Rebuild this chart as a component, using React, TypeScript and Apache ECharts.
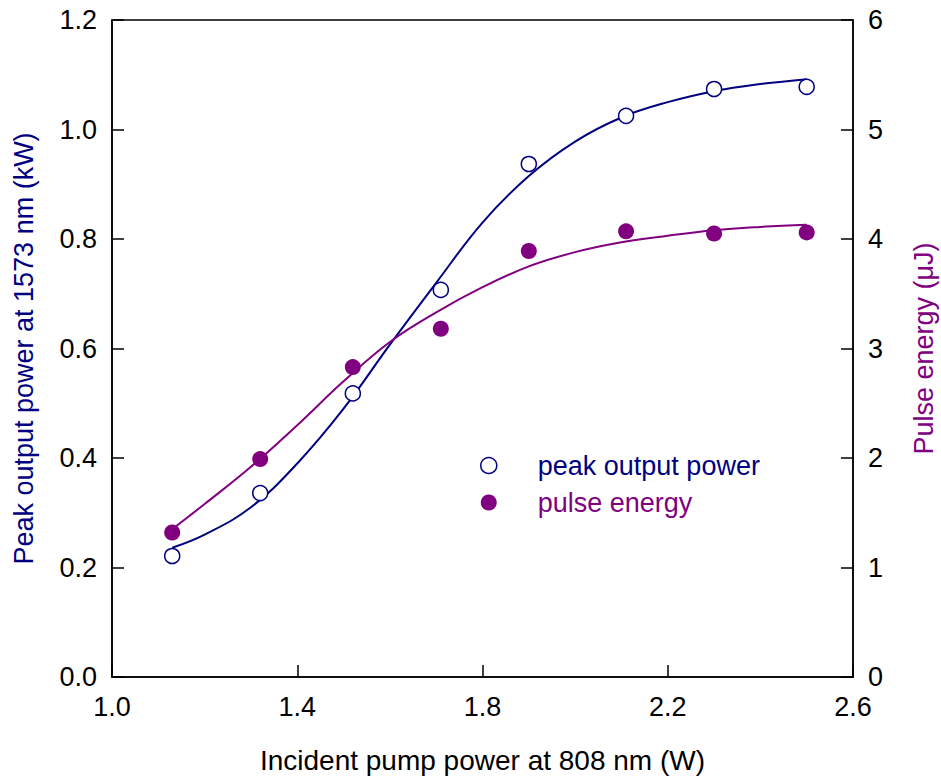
import React, { useEffect, useRef } from "react";
import * as echarts from "echarts";

const pumpPower = [1.13, 1.32, 1.52, 1.71, 1.9, 2.11, 2.3, 2.5];
const peakPower = [0.221, 0.336, 0.518, 0.707, 0.937, 1.025, 1.074, 1.078];
const pulseEnergy = [1.32, 1.99, 2.83, 3.18, 3.89, 4.07, 4.05, 4.06];

const fitX = [1.13, 1.2, 1.3, 1.4, 1.5, 1.6, 1.7, 1.8, 1.9, 2.0, 2.1, 2.2, 2.3, 2.4, 2.5];
const peakFit = [0.236, 0.26, 0.31, 0.39, 0.49, 0.607, 0.72, 0.83, 0.915, 0.978, 1.022, 1.05, 1.07, 1.083, 1.092];
const energyFit = [1.35, 1.58, 1.92, 2.3, 2.7, 3.06, 3.33, 3.56, 3.75, 3.88, 3.97, 4.03, 4.08, 4.11, 4.13];

const xTicks = { min: 1.0, max: 2.6, interval: 0.4 };
const leftTicks = { min: 0, max: 1.2, interval: 0.2 };
const rightTicks = { min: 0, max: 6, interval: 1 };

const NAVY = "#000080";
const PURPLE = "#800080";
const FONT = "'Liberation Sans', Arial, sans-serif";

export default function App() {
  const ref = useRef<HTMLDivElement>(null);
  useEffect(() => {
    if (!ref.current) return;
    const chart = echarts.init(ref.current, undefined, { renderer: "svg" });
    const zip = (xs: number[], ys: number[]) => xs.map((x, i) => [x, ys[i]]);
    const axisCommon = {
      axisLine: { show: true, lineStyle: { color: "#000", width: 1.5 } },
      axisTick: { show: true, inside: true, length: 12, lineStyle: { color: "#000", width: 1.5 } },
      splitLine: { show: false },
      axisLabel: { color: "#000", fontSize: 27, fontFamily: FONT },
    };
    chart.setOption({
      animation: false,
      backgroundColor: "#fff",
      textStyle: { fontFamily: FONT },
      grid: {
        left: 112,
        right: 88,
        top: 20,
        bottom: 104,
        show: true,
        borderColor: "#000",
        borderWidth: 1.5,
        outerBoundsMode: "none",
      },
      legend: {
        orient: "vertical",
        left: 475,
        top: 447,
        itemWidth: 16,
        itemHeight: 16,
        itemGap: 10,
        textStyle: { fontSize: 27, fontFamily: FONT, padding: [0, 0, 0, 36] },
        data: [
          {
            name: "peak output power",
            icon: "circle",
            itemStyle: { color: "#fff", borderColor: NAVY, borderWidth: 1.5 },
            textStyle: { color: NAVY },
          },
          {
            name: "pulse energy",
            icon: "circle",
            itemStyle: { color: PURPLE },
            textStyle: { color: PURPLE },
          },
        ],
      },
      xAxis: {
        type: "value",
        ...xTicks,
        ...axisCommon,
        axisLabel: { ...axisCommon.axisLabel, margin: 16, formatter: (v: number) => v.toFixed(1) },
        name: "Incident pump power at 808 nm (W)",
        nameLocation: "middle",
        nameGap: 69,
        nameTextStyle: { color: "#000", fontSize: 28, fontFamily: FONT },
      },
      yAxis: [
        {
          type: "value",
          ...leftTicks,
          ...axisCommon,
          axisLabel: { ...axisCommon.axisLabel, margin: 15, formatter: (v: number) => v.toFixed(1) },
          name: "Peak output power at 1573 nm (kW)",
          nameLocation: "middle",
          nameRotate: 90,
          nameGap: 75,
          nameTextStyle: { color: NAVY, fontSize: 27, fontFamily: FONT },
        },
        {
          type: "value",
          position: "right",
          ...rightTicks,
          ...axisCommon,
          axisLabel: { ...axisCommon.axisLabel, margin: 15 },
          name: "Pulse energy (\u03bcJ)",
          nameLocation: "middle",
          nameRotate: 90,
          nameGap: 57,
          nameTextStyle: { color: PURPLE, fontSize: 27, fontFamily: FONT },
        },
      ],
      series: [
        {
          name: "peak fit",
          type: "line",
          data: zip(fitX, peakFit),
          smooth: 0.4,
          showSymbol: false,
          lineStyle: { color: NAVY, width: 2 },
          yAxisIndex: 0,
          silent: true,
        },
        {
          name: "energy fit",
          type: "line",
          data: zip(fitX, energyFit),
          smooth: 0.4,
          showSymbol: false,
          lineStyle: { color: PURPLE, width: 2 },
          yAxisIndex: 1,
          silent: true,
        },
        {
          name: "peak output power",
          type: "scatter",
          data: zip(pumpPower, peakPower),
          symbol: "circle",
          symbolSize: 15,
          itemStyle: { color: "#fff", borderColor: NAVY, borderWidth: 1.5, opacity: 1 },
          yAxisIndex: 0,
          z: 5,
        },
        {
          name: "pulse energy",
          type: "scatter",
          data: zip(pumpPower, pulseEnergy),
          symbol: "circle",
          symbolSize: 16,
          itemStyle: { color: PURPLE, opacity: 1 },
          yAxisIndex: 1,
          z: 5,
        },
      ],
    });
    return () => chart.dispose();
  }, []);
  return (
    <div
      ref={ref}
      style={{ position: "fixed", left: 0, top: 0, width: 941, height: 781, background: "#fff" }}
    />
  );
}
